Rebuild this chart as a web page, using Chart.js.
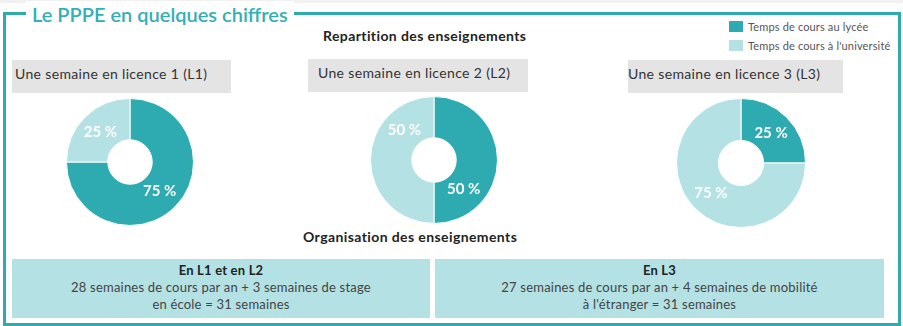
<!DOCTYPE html>
<html lang="fr">
<head>
<meta charset="utf-8">
<script src="https://cdn.jsdelivr.net/npm/chart.js@4.4.1/dist/chart.umd.min.js"></script>
<style>
  body { margin: 0; width: 903px; height: 326px; background: #fff; font-family: Lato, sans-serif; color: #333; position: relative; overflow: hidden; }
  .strip { position: absolute; left: 0; top: 0; width: 903px; height: 3px; background: #f1f1f1; }
  .frame { position: absolute; left: 3px; top: 12px; width: 892px; height: 308px; border: 3px solid #2eabb1; box-sizing: content-box; }
  .title { position: absolute; left: 26px; top: 1px; padding: 0 6px; background: #fff; color: #34afb4; font-size: 20px; font-weight: 600; line-height: 26px; }
  .legend { position: absolute; left: 729px; top: 20px; font-size: 11px; color: #555; letter-spacing: 0.15px; }
  .legend div { height: 19px; line-height: 13px; white-space: nowrap; }
  .legend span { display: inline-block; width: 14px; height: 11px; margin-right: 5px; vertical-align: -1px; }
  .heading { position: absolute; font-weight: bold; font-size: 14px; letter-spacing: 0.4px; color: #222; white-space: nowrap; }
  .year { position: absolute; height: 33px; background: #e4e4e4; font-size: 14px; letter-spacing: 0.35px; line-height: 28px; white-space: nowrap; color: #333; }
  canvas { position: absolute; }
  .box { position: absolute; top: 259px; height: 59px; background: #b3e1e4; text-align: center; font-size: 13px; letter-spacing: 0.2px; line-height: 17px; color: #444; }
  .box b { color: #222; display: block; margin-top: 3px; }
</style>
</head>
<body>
<div class="strip"></div>
<div class="frame"></div>
<div class="title">Le PPPE en quelques chiffres</div>
<div class="legend" id="legend"></div>
<div class="heading" style="left:323px; top:27px;">Repartition des enseignements</div>
<div class="year" id="year0" style="left:12px; top:60px; width:219px; padding-left:3px; box-sizing:border-box;"></div>
<div class="year" id="year1" style="left:308px; top:59px; width:220px; padding-left:10px; box-sizing:border-box;"></div>
<div class="year" id="year2" style="left:628px; top:60px; width:215px;"></div>
<canvas id="pie0" width="128" height="128" style="left:66px; top:98px;"></canvas>
<canvas id="pie1" width="128" height="128" style="left:370px; top:96px;"></canvas>
<canvas id="pie2" width="130" height="130" style="left:676px; top:98px;"></canvas>
<div class="heading" style="left:303px; top:228px;">Organisation des enseignements</div>
<div class="box" id="box0" style="left:12px; width:418px;"></div>
<div class="box" id="box1" style="left:435px; width:449px;"></div>
<script>
const categories = ['Temps de cours au lycée', "Temps de cours à l'université"];
const colors = ['#2eabb1', '#b3e1e4'];
const yearLabels = ['Une semaine en licence 1 (L1)', 'Une semaine en licence 2 (L2)', 'Une semaine en licence 3 (L3)'];
const l1Values = [75, 25];
const l2Values = [50, 50];
const l3Values = [25, 75];
const boxTitles = ['En L1 et en L2', 'En L3'];
const boxLines = [
    ['28 semaines de cours par an + 3 semaines de stage', 'en école = 31 semaines'],
    ['27 semaines de cours par an + 4 semaines de mobilité', "à l'étranger = 31 semaines"]
];

// legend and text blocks
document.getElementById('legend').innerHTML = categories.map((c, i) =>
    `<div><span style="background:${colors[i]}"></span>${c}</div>`).join('');
yearLabels.forEach((t, i) => document.getElementById('year' + i).textContent = t);
boxTitles.forEach((t, i) => {
    document.getElementById('box' + i).innerHTML = `<b>${t}</b>` + boxLines[i].join('<br>');
});

// white percentage labels inside the slices
const sliceLabels = {
    id: 'sliceLabels',
    afterDatasetsDraw(chart, args, opts) {
        const ctx = chart.ctx;
        const meta = chart.getDatasetMeta(0);
        const shift = (opts.shift || 0) * Math.PI / 180;
        ctx.save();
        ctx.fillStyle = '#fff';
        ctx.font = 'bold 15px Lato, sans-serif';
        ctx.textAlign = 'center';
        ctx.textBaseline = 'middle';
        meta.data.forEach((arc, i) => {
            const p = arc.getProps(['x', 'y', 'startAngle', 'endAngle', 'innerRadius', 'outerRadius'], true);
            const a = (p.startAngle + p.endAngle) / 2 + shift;
            const r = (p.innerRadius + p.outerRadius) / 2 - 1;
            ctx.fillText(chart.data.datasets[0].data[i] + ' %', p.x + Math.cos(a) * r, p.y + Math.sin(a) * r);
        });
        ctx.restore();
    }
};

function makePie(id, values, shift) {
    new Chart(document.getElementById(id), {
        type: 'doughnut',
        data: {
            labels: categories,
            datasets: [{
                data: values,
                backgroundColor: colors,
                borderColor: '#fff',
                borderWidth: 1
            }]
        },
        options: {
            responsive: false,
            animation: false,
            cutout: '35%',
            layout: { padding: 0 },
            plugins: {
                legend: { display: false },
                tooltip: { enabled: false },
                sliceLabels: { shift: shift }
            }
        },
        plugins: [sliceLabels]
    });
}

makePie('pie0', l1Values, 0);
makePie('pie1', l2Values, 45);
makePie('pie2', l3Values, 0);
</script>
</body>
</html>
